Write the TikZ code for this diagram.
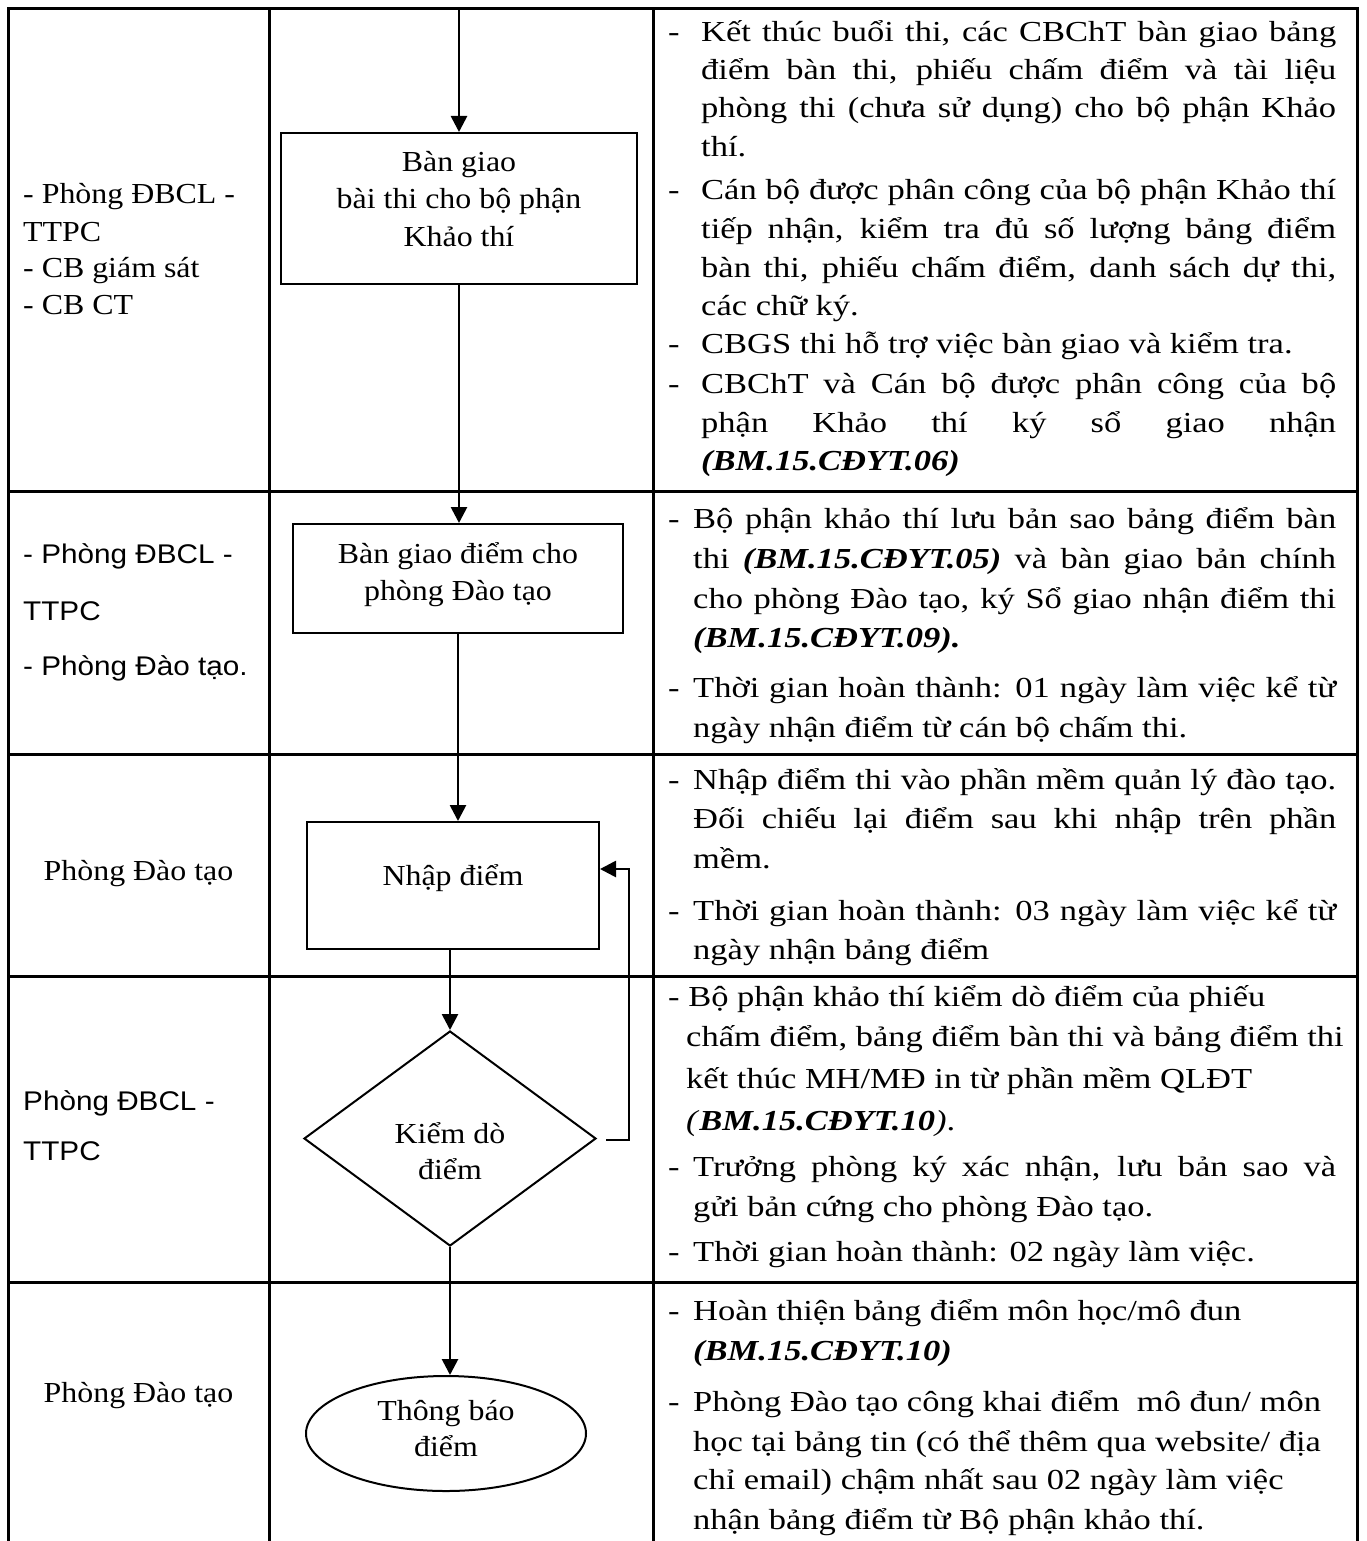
\documentclass[tikz,border=0pt]{standalone}
\usepackage{fontspec}
\setmainfont{Liberation Serif}[FakeStretch=1.1]
\newfontfamily\sansf{Liberation Sans}[FakeStretch=1.1]
\newfontfamily\rcol{Liberation Serif}[FakeStretch=1.19]
\usetikzlibrary{arrows.meta,shapes.geometric}
\newcommand\fs{\fontsize{29}{36}\selectfont}
\newcommand\fsr{\fontsize{29}{36}\selectfont\rcol}
\newcommand\fss{\fontsize{27}{36}\selectfont\sansf}
\newcommand\dashJ[3]{\makebox[#1pt][l]{-}\makebox[#2pt][s]{#3}}
\newcommand\dashR[2]{\makebox[#1pt][l]{-}#2}
\newcommand\lineJ[2]{\makebox[#1pt][s]{#2}}
\newcommand\bi[1]{\textbf{\textit{#1}}}
\begin{document}
\begin{tikzpicture}[x=1pt,y=-1pt,
  ln/.style={anchor=base west,inner sep=0pt,font=\fsr},
  lft/.style={anchor=base west,inner sep=0pt,font=\fs},
  lc/.style={anchor=base,inner sep=0pt,font=\fs},
  lsans/.style={anchor=base west,inner sep=0pt,font=\fss},
  grid/.style={line width=3pt,line join=miter},
  box/.style={draw,line width=2pt,rectangle,inner sep=0pt},
  arr/.style={line width=2.7pt,-{Triangle[length=16pt,width=16pt]}}]
\useasboundingbox (0,0) rectangle (1366,1541);
% table
\draw[grid] (8,1541) -- (8,9) -- (1357,9) -- (1357,1541);
\draw[grid] (269,9) -- (269,1541);
\draw[grid] (653,9) -- (653,1541);
\foreach \yy in {491,754,976,1282} \draw[grid] (8,\yy) -- (1357,\yy);
% shapes
\node[box,minimum width=356pt,minimum height=151pt] (b1) at (459,208.5) {};
\node[box,minimum width=330pt,minimum height=109pt] (b2) at (458,578.5) {};
\node[box,minimum width=292pt,minimum height=127pt] (b3) at (453,885.5) {};
\node[draw,line width=2pt,diamond,inner sep=0pt,minimum width=292pt,minimum height=215pt] (d) at (450,1138.5) {};
\node[draw,line width=2pt,ellipse,inner sep=0pt,minimum width=280pt,minimum height=115pt] (e) at (446,1433.5) {};
% shape texts
\node[lc] (t1a) at (459,172) {Bàn giao};
\node[lc] (t1b) at (459,208) {bài thi cho bộ phận};
\node[lc] (t1c) at (459,246) {Khảo thí};
\node[lc] (t2a) at (458,563) {Bàn giao điểm cho};
\node[lc] (t2b) at (458,600) {phòng Đào tạo};
\node[lc] (t3a) at (453,885) {Nhập điểm};
\node[lc] (t4a) at (450,1143) {Kiểm dò};
\node[lc] (t4b) at (450,1179) {điểm};
\node[lc] (t5a) at (446,1420) {Thông báo};
\node[lc] (t5b) at (446,1456) {điểm};
% connectors
\coordinate (top) at (459,9);
\draw[arr] (top) -- (b1.north);
\draw[arr] (b1.south) -- (b1.south |- b2.north);
\draw[arr] (b2.south) -- (b2.south |- b3.north);
\draw[arr] (d.north |- b3.south) -- (d.north);
\draw[arr] (d.south) -- (d.south |- e.north);
\coordinate (fb0) at (606,1140);
\coordinate (fb1) at (629,869);
\draw[arr] (fb0) -- (fb0 -| fb1) -- (fb1) -- (fb1 -| b3.east);
% left column
\node[lft] (l1a) at (23,204) {- Phòng ĐBCL -};
\node[lft] (l1b) at (23,241) {TTPC};
\node[lft] (l1c) at (23,277) {- CB giám sát};
\node[lft] (l1d) at (23,314) {- CB CT};
\node[lsans] (l2a) at (23,563) {- Phòng ĐBCL -};
\node[lsans] (l2b) at (23,620) {TTPC};
\node[lsans] (l2c) at (23,675) {- Phòng Đào tạo.};
\node[lc] (l3a) at (138.5,880) {Phòng Đào tạo};
\node[lsans] (l4a) at (23,1110) {Phòng ĐBCL -};
\node[lsans] (l4b) at (23,1160) {TTPC};
\node[lc] (l5a) at (138.5,1402) {Phòng Đào tạo};
% right column row 1
\node[ln] (r1a) at (668,42) {\dashJ{33}{635}{Kết thúc buổi thi, các CBChT bàn giao bảng}};
\node[ln] (r1b) at (701,80) {\lineJ{635}{điểm bàn thi, phiếu chấm điểm và tài liệu}};
\node[ln] (r1c) at (701,118) {\lineJ{635}{phòng thi (chưa sử dụng) cho bộ phận Khảo}};
\node[ln] (r1d) at (701,157) {thí.};
\node[ln] (r1e) at (668,200) {\dashJ{33}{635}{Cán bộ được phân công của bộ phận Khảo thí}};
\node[ln] (r1f) at (701,238) {\lineJ{635}{tiếp nhận, kiểm tra đủ số lượng bảng điểm}};
\node[ln] (r1g) at (701,277) {\lineJ{635}{bàn thi, phiếu chấm điểm, danh sách dự thi,}};
\node[ln] (r1h) at (701,315) {các chữ ký.};
\node[ln] (r1i) at (668,353) {\dashR{33}{CBGS thi hỗ trợ việc bàn giao và kiểm tra.}};
\node[ln] (r1j) at (668,393) {\dashJ{33}{635}{CBChT và Cán bộ được phân công của bộ}};
\node[ln] (r1k) at (701,432) {\lineJ{635}{phận Khảo thí ký sổ giao nhận}};
\node[ln] (r1l) at (701,470) {\bi{(BM.15.CĐYT.06)}};
% row 2
\node[ln] (r2a) at (668,528) {\dashJ{25}{643}{Bộ phận khảo thí lưu bản sao bảng điểm bàn}};
\node[ln] (r2b) at (693,568) {\lineJ{643}{thi \bi{(BM.15.CĐYT.05)} và bàn giao bản chính}};
\node[ln] (r2c) at (693,608) {\lineJ{643}{cho phòng Đào tạo, ký Sổ giao nhận điểm thi}};
\node[ln] (r2d) at (693,647) {\bi{(BM.15.CĐYT.09).}};
\node[ln] (r2e) at (668,697) {\dashJ{25}{643}{Thời gian hoàn thành: 01 ngày làm việc kể từ}};
\node[ln] (r2f) at (693,737) {ngày nhận điểm từ cán bộ chấm thi.};
% row 3
\node[ln] (r3a) at (668,789) {\dashJ{25}{643}{Nhập điểm thi vào phần mềm quản lý đào tạo.}};
\node[ln] (r3b) at (693,828) {\lineJ{643}{Đối chiếu lại điểm sau khi nhập trên phần}};
\node[ln] (r3c) at (693,868) {mềm.};
\node[ln] (r3d) at (668,920) {\dashJ{25}{643}{Thời gian hoàn thành: 03 ngày làm việc kể từ}};
\node[ln] (r3e) at (693,959) {ngày nhận bảng điểm};
% row 4
\node[ln] (r4a) at (668,1006) {- Bộ phận khảo thí kiểm dò điểm của phiếu};
\node[ln] (r4b) at (686,1046) {chấm điểm, bảng điểm bàn thi và bảng điểm thi};
\node[ln] (r4c) at (686,1088) {kết thúc MH/MĐ in từ phần mềm QLĐT};
\node[ln] (r4d) at (686,1130) {\textit{(}\bi{BM.15.CĐYT.10}\textit{)}.};
\node[ln] (r4e) at (668,1176) {\dashJ{25}{643}{Trưởng phòng ký xác nhận, lưu bản sao và}};
\node[ln] (r4f) at (693,1216) {gửi bản cứng cho phòng Đào tạo.};
\node[ln] (r4g) at (668,1261) {\dashR{25}{Thời gian hoàn thành: 02 ngày làm việc.}};
% row 5
\node[ln] (r5a) at (668,1320) {\dashR{25}{Hoàn thiện bảng điểm môn học/mô đun}};
\node[ln] (r5b) at (693,1360) {\bi{(BM.15.CĐYT.10)}};
\node[ln] (r5c) at (668,1411) {\dashR{25}{Phòng Đào tạo công khai điểm\ \ mô đun/ môn}};
\node[ln] (r5d) at (693,1451) {học tại bảng tin (có thể thêm qua website/ địa};
\node[ln] (r5e) at (693,1489) {chỉ email) chậm nhất sau 02 ngày làm việc};
\node[ln] (r5f) at (693,1529) {nhận bảng điểm từ Bộ phận khảo thí.};
\end{tikzpicture}
\end{document}
